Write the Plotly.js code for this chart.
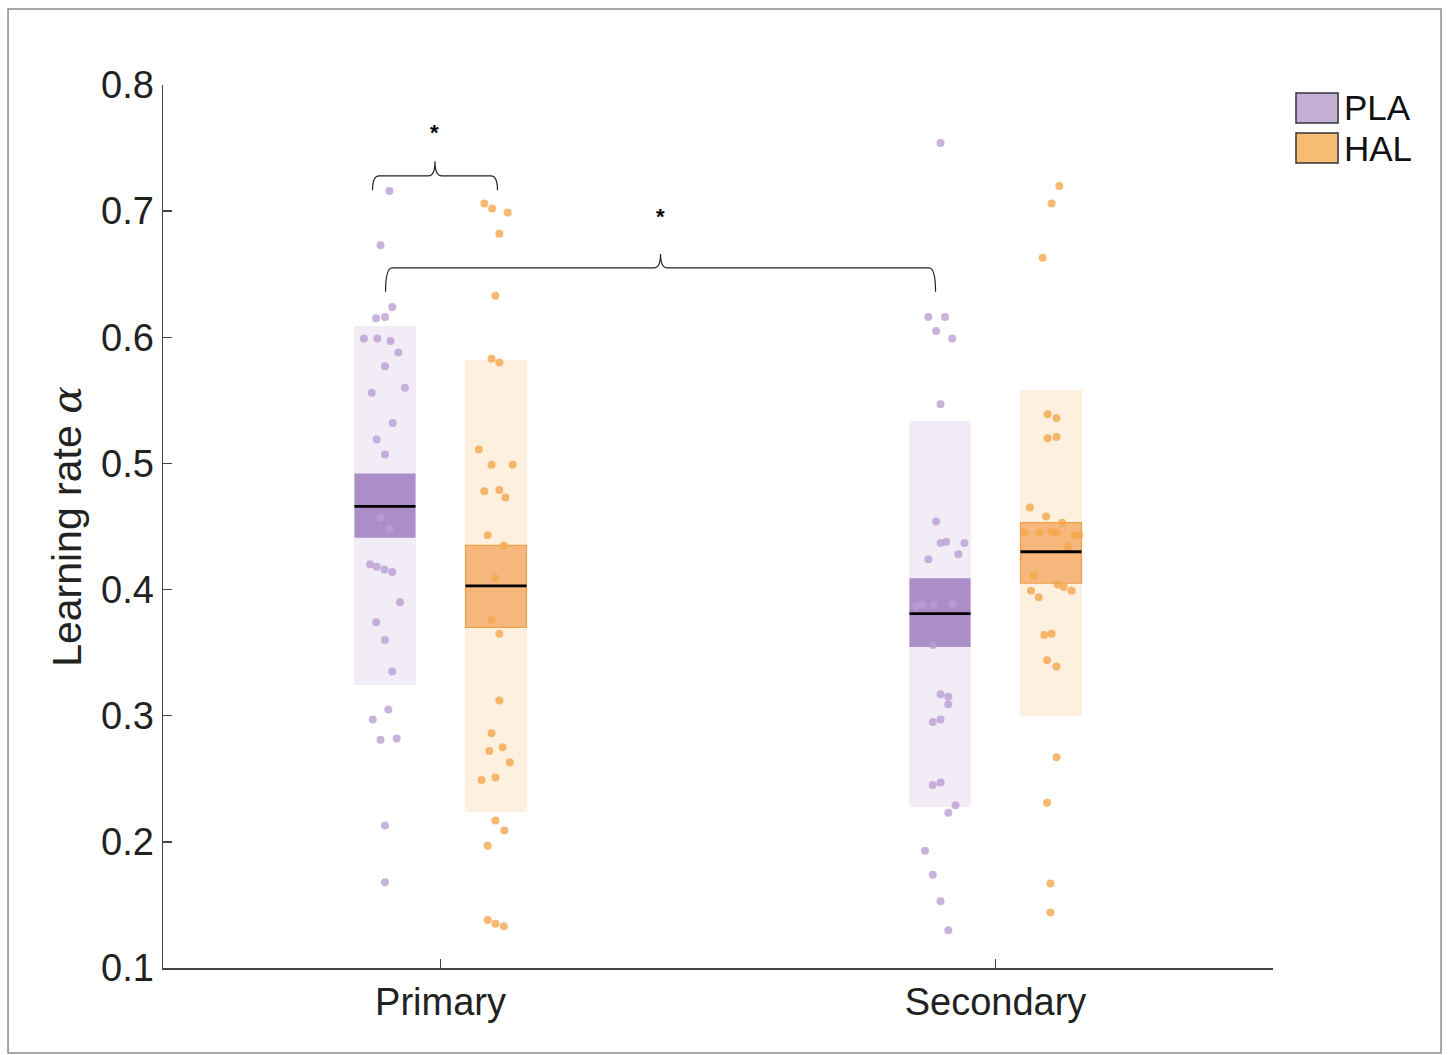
<!DOCTYPE html>
<html>
<head>
<meta charset="utf-8">
<script src="https://cdn.plot.ly/plotly-3.0.1.min.js"></script>
<style>html,body{margin:0;padding:0;background:#fff;}#chart{width:1448px;height:1055px;}</style>
</head>
<body>
<div id="chart"></div>
<script>
// ---- data ----
const categories = ['Primary', 'Secondary'];
const groups = ['PLA', 'HAL'];

// mean, SEM band, SD band per category
const plaMean  = [0.466, 0.381];
const plaSemLo = [0.441, 0.3545];
const plaSemHi = [0.492, 0.409];
const plaSdLo  = [0.324, 0.228];
const plaSdHi  = [0.609, 0.534];

const halMean  = [0.403, 0.430];
const halSemLo = [0.370, 0.405];
const halSemHi = [0.435, 0.453];
const halSdLo  = [0.224, 0.300];
const halSdHi  = [0.582, 0.558];

// individual subjects (values) and their horizontal jitter as drawn
const plaPrimary = [0.716,0.673,0.624,0.615,0.616,0.599,0.599,0.597,0.588,0.577,0.560,0.556,0.532,0.519,0.507,0.457,0.448,0.420,0.418,0.416,0.414,0.390,0.374,0.360,0.335,0.305,0.297,0.281,0.282,0.213,0.168];
const plaPrimaryJit = [0.008,-0.008,0.013,-0.016,0.000,-0.038,-0.014,0.010,0.024,0.000,0.036,-0.024,0.014,-0.015,0.000,-0.008,0.008,-0.027,-0.015,-0.001,0.013,0.027,-0.016,0.000,0.013,0.006,-0.022,-0.008,0.021,0.000,0.000];

const halPrimary = [0.706,0.702,0.699,0.682,0.633,0.583,0.580,0.511,0.499,0.499,0.478,0.479,0.473,0.443,0.435,0.409,0.376,0.365,0.312,0.286,0.272,0.275,0.263,0.249,0.251,0.217,0.209,0.197,0.138,0.135,0.133];
const halPrimaryJit = [-0.021,-0.007,0.021,0.006,-0.001,-0.008,0.006,-0.031,-0.008,0.030,-0.021,0.006,0.017,-0.015,0.014,-0.001,-0.008,0.006,0.006,-0.008,-0.012,0.012,0.025,-0.026,-0.001,-0.001,0.015,-0.015,-0.015,-0.001,0.014];

const plaSecondary = [0.754,0.616,0.616,0.605,0.599,0.547,0.454,0.437,0.438,0.437,0.424,0.428,0.387,0.388,0.388,0.389,0.356,0.317,0.315,0.309,0.295,0.297,0.245,0.247,0.229,0.223,0.193,0.174,0.153,0.130];
const plaSecondaryJit = [0.001,-0.021,0.009,-0.007,0.022,0.001,-0.007,0.001,0.011,0.044,-0.021,0.033,-0.043,-0.032,-0.011,0.022,-0.013,0.001,0.015,0.015,-0.013,0.001,-0.013,0.001,0.028,0.015,-0.027,-0.013,0.001,0.015];

const halSecondary = [0.720,0.706,0.663,0.539,0.536,0.520,0.521,0.465,0.458,0.453,0.445,0.446,0.445,0.445,0.443,0.443,0.434,0.411,0.404,0.402,0.399,0.399,0.394,0.364,0.365,0.344,0.339,0.267,0.231,0.167,0.144];
const halSecondaryJit = [0.015,0.001,-0.015,-0.006,0.010,-0.006,0.010,-0.038,-0.009,0.020,-0.021,0.001,0.010,-0.048,0.043,0.051,0.030,-0.031,0.012,0.023,0.037,-0.036,-0.022,-0.012,0.001,-0.007,0.010,0.010,-0.007,-0.001,-0.001];

const yTicks = [0.1,0.2,0.3,0.4,0.5,0.6,0.7,0.8];
const yLabel = 'Learning rate <i style="font-family:\'DejaVu Serif\'">α</i>';

// ---- styling ----
const FONT = 'Liberation Sans, Arial, Helvetica, sans-serif';
const OFF = 0.1, BW = 0.11;
const catX = categories.map((c, i) => i + 1);
const col = {
  PLA: {sd: '#f1ecf6', sem: '#ab8dc8', semLine: 'rgba(0,0,0,0)', pt: 'rgba(185,158,210,0.78)', leg: '#c4afd6'},
  HAL: {sd: '#fdf0de', sem: '#f5b77b', semLine: '#ee9f4c', pt: 'rgba(243,168,78,0.8)', leg: '#f6bc73'}
};
const stats = {
  PLA: {mean: plaMean, semLo: plaSemLo, semHi: plaSemHi, sdLo: plaSdLo, sdHi: plaSdHi, off: -OFF,
        pts: [plaPrimary, plaSecondary], jit: [plaPrimaryJit, plaSecondaryJit]},
  HAL: {mean: halMean, semLo: halSemLo, semHi: halSemHi, sdLo: halSdLo, sdHi: halSdHi, off: OFF,
        pts: [halPrimary, halSecondary], jit: [halPrimaryJit, halSecondaryJit]}
};

const traces = [];
groups.forEach(g => {
  const s = stats[g];
  const xs = catX.map(x => x + s.off);
  traces.push({type: 'bar', x: xs, base: s.sdLo, y: s.sdHi.map((v, i) => v - s.sdLo[i]), width: BW,
    marker: {color: col[g].sd, line: {width: 0}}, showlegend: false, hoverinfo: 'skip'});
});
groups.forEach(g => {
  const s = stats[g];
  const xs = catX.map(x => x + s.off);
  traces.push({type: 'bar', x: xs, base: s.semLo, y: s.semHi.map((v, i) => v - s.semLo[i]), width: BW,
    marker: {color: col[g].sem, line: {width: 1.2, color: col[g].semLine}}, showlegend: false, hoverinfo: 'skip'});
});
groups.forEach(g => {
  const s = stats[g];
  s.pts.forEach((vals, ci) => {
    traces.push({type: 'scatter', mode: 'markers',
      x: vals.map((v, k) => catX[ci] + s.off + s.jit[ci][k]), y: vals,
      marker: {size: 8, color: col[g].pt, line: {width: 0}}, showlegend: false, hoverinfo: 'y'});
  });
});
groups.forEach(g => {
  const s = stats[g];
  catX.forEach((x, i) => {
    traces.push({type: 'scatter', mode: 'lines',
      x: [x + s.off - BW / 2, x + s.off + BW / 2], y: [s.mean[i], s.mean[i]],
      line: {color: '#000', width: 2.8}, showlegend: false, hoverinfo: 'skip'});
  });
});

// curly brace path (data coords)
function brace(x0, x1, yBar, yEnd, yTip) {
  const xm = (x0 + x1) / 2, dx = 0.012;
  return `M ${x0},${yEnd} Q ${x0},${yBar} ${x0 + dx},${yBar} L ${xm - dx},${yBar} ` +
         `Q ${xm},${yBar} ${xm},${yTip} Q ${xm},${yBar} ${xm + dx},${yBar} ` +
         `L ${x1 - dx},${yBar} Q ${x1},${yBar} ${x1},${yEnd}`;
}

const shapes = [
  {type: 'path', xref: 'x', yref: 'y', path: brace(0.8775, 1.1027, 0.7279, 0.7165, 0.7395), line: {color: '#222', width: 1.2}},
  {type: 'path', xref: 'x', yref: 'y', path: brace(0.901, 1.892, 0.655, 0.636, 0.666), line: {color: '#222', width: 1.2}},
  // figure frame
  {type: 'rect', xref: 'paper', yref: 'paper', x0: -0.1396, x1: 1.1514, y0: -0.0963, y1: 1.0861, line: {color: '#8a8a8a', width: 1.5}},
  // legend boxes
  {type: 'rect', xref: 'paper', yref: 'paper', x0: 1.0207, x1: 1.0586, y0: 0.957, y1: 0.991, fillcolor: col.PLA.leg, line: {color: '#333', width: 1.5}},
  {type: 'rect', xref: 'paper', yref: 'paper', x0: 1.0207, x1: 1.0586, y0: 0.9117, y1: 0.9456, fillcolor: col.HAL.leg, line: {color: '#333', width: 1.5}}
];

const annotations = [
  {x: 0.989, y: 0.762, xref: 'x', yref: 'y', text: '<b>*</b>', showarrow: false, font: {family: FONT, size: 22, color: '#000'}},
  {x: 1.396, y: 0.696, xref: 'x', yref: 'y', text: '<b>*</b>', showarrow: false, font: {family: FONT, size: 22, color: '#000'}},
  {x: 1.062, y: 0.974, xref: 'paper', yref: 'paper', xanchor: 'left', yanchor: 'middle', text: groups[0], showarrow: false, font: {family: FONT, size: 35, color: '#111'}},
  {x: 1.062, y: 0.928, xref: 'paper', yref: 'paper', xanchor: 'left', yanchor: 'middle', text: groups[1], showarrow: false, font: {family: FONT, size: 35, color: '#111'}}
];

const layout = {
  width: 1448, height: 1055,
  margin: {l: 163, r: 175, t: 85, b: 87},
  paper_bgcolor: '#fff', plot_bgcolor: '#fff',
  barmode: 'overlay', bargap: 0,
  showlegend: false,
  font: {family: FONT, color: '#222'},
  xaxis: {range: [0.5, 2.5], tickvals: catX, ticktext: categories, showgrid: false, zeroline: false,
    showline: true, linecolor: '#444', linewidth: 1.5, ticks: 'inside', ticklen: 9, tickcolor: '#444', tickwidth: 1.3,
    tickfont: {family: FONT, size: 38, color: '#222'}, fixedrange: true},
  yaxis: {range: [0.1, 0.8], tickvals: yTicks, ticktext: yTicks.map(v => v.toFixed(1)), showgrid: false, zeroline: false,
    showline: true, linecolor: '#444', linewidth: 1.5, ticks: 'inside', ticklen: 9, tickcolor: '#444', tickwidth: 1.3,
    tickfont: {family: FONT, size: 38, color: '#222'},
    title: {text: yLabel, font: {family: FONT, size: 41, color: '#222'}, standoff: 6}, fixedrange: true},
  shapes: shapes,
  annotations: annotations
};

Plotly.newPlot('chart', traces, layout, {displayModeBar: false, staticPlot: true});
</script>
</body>
</html>
